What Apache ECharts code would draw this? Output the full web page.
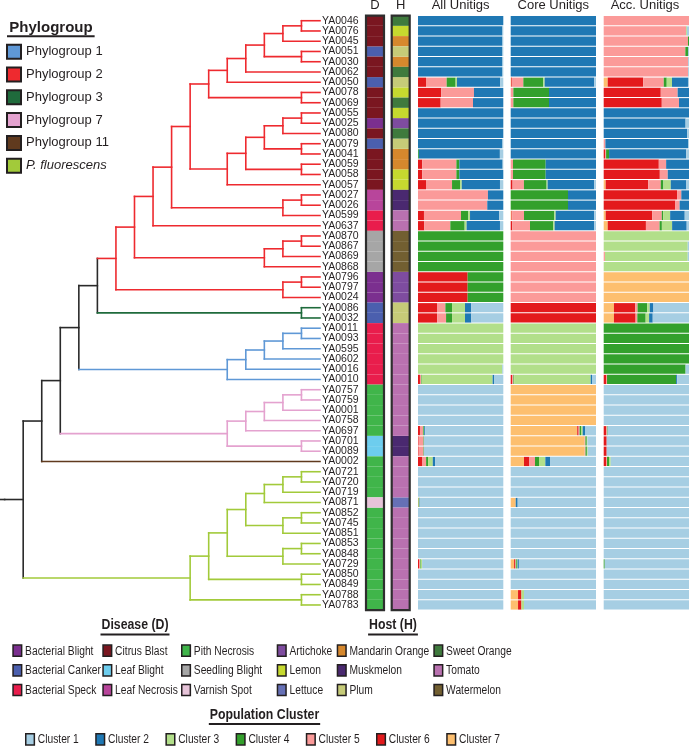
<!DOCTYPE html>
<html><head><meta charset="utf-8">
<script src="https://cdn.jsdelivr.net/npm/echarts@6/dist/echarts.min.js"></script>
<style>html,body{margin:0;padding:0;background:#fff}#c{width:689px;height:747px}</style>
</head><body><div id="c"></div>
<script>
// ---------------- DATA ----------------
const leaves = ['YA0046','YA0076','YA0045','YA0051','YA0030','YA0062','YA0050','YA0078','YA0069','YA0055',
'YA0025','YA0080','YA0079','YA0041','YA0059','YA0058','YA0057','YA0027','YA0026','YA0599',
'YA0637','YA0870','YA0867','YA0869','YA0868','YA0796','YA0797','YA0024','YA0086','YA0032',
'YA0011','YA0093','YA0595','YA0602','YA0016','YA0010','YA0757','YA0759','YA0001','YA0758',
'YA0697','YA0701','YA0089','YA0002','YA0721','YA0720','YA0719','YA0871','YA0852','YA0745',
'YA0851','YA0853','YA0848','YA0729','YA0850','YA0849','YA0788','YA0783'];

// tree topology (clades in Newick form)
const cladeA = '((((((YA0046,YA0076),YA0045),(YA0051,YA0030)),YA0062),YA0050),(YA0078,YA0069))';
const cladeB = '(((((YA0055,YA0025),YA0080),(YA0079,YA0041)),(YA0059,YA0058)),YA0057)';
const cladeC = '((YA0027,YA0026),YA0599)';
const cladeS = '(((YA0870,YA0867),YA0869),YA0868)';
const cladeP = '((YA0796,YA0797),YA0024)';
const cladeG = '(YA0086,YA0032)';
const cladeBlue = '(((((YA0011,YA0093),YA0595),YA0602),YA0016),YA0010)';
const cladePink = '(((((YA0757,YA0759),YA0001),YA0758),YA0697),(YA0701,YA0089))';
const cladeFl = '(((((((YA0721,YA0720),YA0719),YA0871),((YA0852,YA0745),YA0851)),((YA0853,YA0848),YA0729)),(YA0850,YA0849)),(YA0788,YA0783))';
const redClade = '((((((' + cladeA + ',' + cladeB + '),' + cladeC + '),YA0637),' + cladeS + '),' + cladeP + ')';
const treeNewick = '(((((' + redClade + ',' + cladeG + '),' + cladeBlue + '),' + cladePink + '),YA0002),' + cladeFl + ')';

const phylogroupNames = ['Phylogroup 1','Phylogroup 2','Phylogroup 3','Phylogroup 7','Phylogroup 11','P. fluorescens'];
const phylogroupColors = ['#5f98d6','#ee2a2f','#1f6b3c','#e4a2cf','#603a1e','#a2ca3a'];
const phylogroup = [].concat(
  Array(28).fill('Phylogroup 2'), Array(2).fill('Phylogroup 3'), Array(6).fill('Phylogroup 1'),
  Array(7).fill('Phylogroup 7'), ['Phylogroup 11'], Array(14).fill('P. fluorescens'));

const diseaseNames = ['Bacterial Blight','Bacterial Canker','Bacterial Speck','Citrus Blast','Leaf Blight','Leaf Necrosis','Pith Necrosis','Seedling Blight','Varnish Spot'];
const diseaseColors = ['#7b2f8f','#4b5fae','#e91d4c','#7a1620','#6dcdee','#b8459b','#40b54a','#a6a6a6','#e6c3d8'];
const disease = ['Citrus Blast','Citrus Blast','Citrus Blast','Bacterial Canker','Citrus Blast','Citrus Blast','Bacterial Canker','Citrus Blast','Citrus Blast','Citrus Blast',
'Bacterial Blight','Citrus Blast','Bacterial Canker','Citrus Blast','Citrus Blast','Citrus Blast','Citrus Blast','Leaf Necrosis','Leaf Necrosis','Bacterial Speck',
'Bacterial Speck','Seedling Blight','Seedling Blight','Seedling Blight','Seedling Blight','Bacterial Blight','Bacterial Blight','Bacterial Blight','Bacterial Canker','Bacterial Canker',
'Bacterial Speck','Bacterial Speck','Bacterial Speck','Bacterial Speck','Bacterial Speck','Bacterial Speck','Pith Necrosis','Pith Necrosis','Pith Necrosis','Pith Necrosis',
'Pith Necrosis','Leaf Blight','Leaf Blight','Pith Necrosis','Pith Necrosis','Pith Necrosis','Pith Necrosis','Varnish Spot','Pith Necrosis','Pith Necrosis',
'Pith Necrosis','Pith Necrosis','Pith Necrosis','Pith Necrosis','Pith Necrosis','Pith Necrosis','Pith Necrosis','Pith Necrosis'];

const hostNames = ['Artichoke','Lemon','Lettuce','Mandarin Orange','Muskmelon','Plum','Sweet Orange','Tomato','Watermelon'];
const hostColors = ['#7e4c9f','#c6d92f','#6670b6','#d6882d','#4a2970','#c6cb78','#3f7a3d','#b971b0','#725f31'];
const host = ['Sweet Orange','Lemon','Mandarin Orange','Plum','Mandarin Orange','Sweet Orange','Plum','Lemon','Sweet Orange','Lemon',
'Artichoke','Sweet Orange','Plum','Mandarin Orange','Mandarin Orange','Lemon','Lemon','Muskmelon','Muskmelon','Tomato',
'Tomato','Watermelon','Watermelon','Watermelon','Watermelon','Artichoke','Artichoke','Artichoke','Plum','Plum',
'Tomato','Tomato','Tomato','Tomato','Tomato','Tomato','Tomato','Tomato','Tomato','Tomato',
'Tomato','Muskmelon','Muskmelon','Tomato','Tomato','Tomato','Tomato','Lettuce','Tomato','Tomato',
'Tomato','Tomato','Tomato','Tomato','Tomato','Tomato','Tomato','Tomato'];

const clusterNames = ['Cluster 1','Cluster 2','Cluster 3','Cluster 4','Cluster 5','Cluster 6','Cluster 7'];
const clusterColors = ['#a6cee3','#1f78b4','#b2df8a','#33a02c','#fb9a99','#e31a1c','#fdbf6f'];

// proportions per leaf: [C1,C2,C3,C4,C5,C6,C7]
const allUnitigs = [
[0,1,0,0,0,0,0],[0.01,0.99,0,0,0,0,0],[0.01,0.99,0,0,0,0,0],[0.01,0.99,0,0,0,0,0],[0.01,0.99,0,0,0,0,0],
[0.01,0.99,0,0,0,0,0],[0.035,0.508,0.016,0.105,0.242,0.094,0],[0,0.344,0,0,0.383,0.273,0],[0,0.355,0,0,0.379,0.266,0],[0,1,0,0,0,0,0],
[0,1,0,0,0,0,0],[0,1,0,0,0,0,0],[0.01,0.99,0,0,0,0,0],[0.04,0.95,0,0.01,0,0,0],[0.008,0.507,0,0.035,0.4,0.05,0],
[0,0.515,0,0.035,0.4,0.05,0],[0.039,0.448,0.02,0.094,0.305,0.094,0],[0,0.18,0,0,0.82,0,0],[0,0.188,0,0,0.812,0,0],[0.047,0.343,0.02,0.086,0.434,0.07,0],
[0.039,0.391,0.023,0.168,0.305,0.074,0],[0,0,0,1,0,0,0],[0,0,0,1,0,0,0],[0,0,0,1,0,0,0],[0,0,0,1,0,0,0],
[0,0,0,0.418,0,0.582,0],[0,0,0,0.418,0,0.582,0],[0,0,0,0.418,0,0.582,0],[0.375,0.074,0.152,0.078,0.098,0.223,0],[0.375,0.074,0.152,0.07,0.105,0.224,0],
[0,0,1,0,0,0,0],[0,0,1,0,0,0,0],[0,0,1,0,0,0,0],[0,0,1,0,0,0,0],[0.012,0,0.988,0,0,0,0],
[0.105,0.02,0.832,0.008,0.012,0.023,0],[1,0,0,0,0,0,0],[1,0,0,0,0,0,0],[1,0,0,0,0,0,0],[1,0,0,0,0,0,0],
[0.917,0.01,0.005,0.01,0.035,0.023,0],[0.93,0,0,0.005,0.057,0.008,0],[0.93,0,0,0.005,0.057,0.008,0],[0.8,0.027,0.055,0.023,0.043,0.052,0],[1,0,0,0,0,0,0],
[1,0,0,0,0,0,0],[1,0,0,0,0,0,0],[0.98,0.005,0,0.008,0,0,0.007],[1,0,0,0,0,0,0],[1,0,0,0,0,0,0],
[1,0,0,0,0,0,0],[1,0,0,0,0,0,0],[1,0,0,0,0,0,0],[0.952,0,0.016,0.008,0.012,0.012,0],[1,0,0,0,0,0,0],
[1,0,0,0,0,0,0],[1,0,0,0,0,0,0],[1,0,0,0,0,0,0]];

const coreUnitigs = [
[0,1,0,0,0,0,0],[0,1,0,0,0,0,0],[0,1,0,0,0,0,0],[0,1,0,0,0,0,0],[0,1,0,0,0,0,0],
[0,1,0,0,0,0,0],[0.02,0.582,0.016,0.234,0.133,0.008,0.007],[0,0.551,0,0.418,0.031,0,0],[0,0.551,0,0.418,0.031,0,0],[0,1,0,0,0,0,0],
[0,1,0,0,0,0,0],[0,1,0,0,0,0,0],[0,1,0,0,0,0,0],[0,1,0,0,0,0,0],[0,0.59,0,0.383,0.027,0,0],
[0,0.59,0,0.383,0.027,0,0],[0.02,0.547,0.012,0.266,0.133,0.022,0],[0,0.328,0,0.672,0,0,0],[0,0.328,0,0.672,0,0,0],[0.02,0.453,0.016,0.355,0.137,0.01,0.009],
[0.02,0.465,0.016,0.273,0.207,0.019,0],[0,0,0,0,1,0,0],[0,0,0,0,1,0,0],[0,0,0,0,1,0,0],[0,0,0,0,1,0,0],
[0,0,0,0,1,0,0],[0,0,0,0,1,0,0],[0,0,0,0,1,0,0],[0,0,0,0,0,1,0],[0,0,0,0,0,1,0],
[0,0,1,0,0,0,0],[0,0,1,0,0,0,0],[0,0,1,0,0,0,0],[0,0,1,0,0,0,0],[0,0,1,0,0,0,0],
[0.047,0.015,0.898,0.008,0.016,0.016,0],[0,0,0,0,0,0,1],[0,0,0,0,0,0,1],[0,0,0,0,0,0,1],[0,0,0,0,0,0,1],
[0.129,0.027,0.02,0.016,0.012,0.016,0.78],[0.1,0,0.008,0.016,0.01,0,0.866],[0.097,0,0.01,0.016,0.01,0,0.867],[0.539,0.055,0.074,0.047,0.066,0.063,0.156],[1,0,0,0,0,0,0],
[1,0,0,0,0,0,0],[1,0,0,0,0,0,0],[0.918,0.023,0,0,0,0,0.059],[1,0,0,0,0,0,0],[1,0,0,0,0,0,0],
[1,0,0,0,0,0,0],[1,0,0,0,0,0,0],[1,0,0,0,0,0,0],[0.904,0.016,0.008,0.012,0.008,0.012,0.04],[1,0,0,0,0,0,0],
[1,0,0,0,0,0,0],[0.844,0,0.03,0,0,0.04,0.086],[0.844,0,0.03,0,0,0.04,0.086]];

const accUnitigs = [
[0,0,0,0,1,0,0],[0.025,0,0.01,0,0.965,0,0],[0,0,0,0.012,0.988,0,0],[0.012,0,0,0.031,0.957,0,0],[0.01,0,0,0,0.99,0,0],
[0.01,0,0,0,0.99,0,0],[0.012,0.187,0.062,0.035,0.241,0.416,0.047],[0,0.133,0,0,0.198,0.669,0],[0,0.117,0,0,0.202,0.681,0],[0,1,0,0,0,0,0],
[0.04,0.96,0,0,0,0,0],[0.02,0.98,0,0,0,0,0],[0.01,0.97,0,0,0.02,0,0],[0.032,0.905,0,0.035,0.008,0.02,0],[0,0.268,0,0,0.086,0.646,0],
[0,0.249,0,0,0.093,0.658,0],[0.031,0.183,0.086,0.031,0.148,0.498,0.023],[0,0.09,0,0,0.05,0.86,0],[0,0.11,0,0,0.05,0.84,0],[0.05,0.171,0.082,0.016,0.113,0.545,0.023],
[0.027,0.171,0.12,0.027,0.16,0.448,0.047],[0,0,1,0,0,0,0],[0.015,0,0.985,0,0,0,0],[0.015,0,0.97,0,0.015,0,0],[0,0,1,0,0,0,0],
[0,0,0,0,0,0,1],[0,0,0,0,0,0,1],[0,0,0,0,0,0,1],[0.417,0.043,0.03,0.113,0.027,0.25,0.12],[0.425,0.043,0.04,0.098,0.02,0.254,0.12],
[0,0,0,1,0,0,0],[0,0,0,1,0,0,0],[0,0,0,1,0,0,0],[0,0,0,1,0,0,0],[0.04,0,0,0.96,0,0,0],
[0.139,0.012,0,0.81,0.012,0.027,0],[1,0,0,0,0,0,0],[1,0,0,0,0,0,0],[1,0,0,0,0,0,0],[1,0,0,0,0,0,0],
[0.954,0,0,0.008,0.008,0.03,0],[0.965,0,0,0,0,0.035,0],[0.965,0,0,0,0,0.035,0],[0.918,0,0.02,0.023,0.012,0.027,0],[1,0,0,0,0,0,0],
[1,0,0,0,0,0,0],[1,0,0,0,0,0,0],[1,0,0,0,0,0,0],[1,0,0,0,0,0,0],[1,0,0,0,0,0,0],
[1,0,0,0,0,0,0],[1,0,0,0,0,0,0],[1,0,0,0,0,0,0],[0.988,0,0,0.012,0,0,0],[1,0,0,0,0,0,0],
[1,0,0,0,0,0,0],[1,0,0,0,0,0,0],[1,0,0,0,0,0,0]];

// ---------------- LAYOUT / STYLE ----------------
const FONT = '"Liberation Sans", Arial, Helvetica, sans-serif';
const INK = '#231f20';
const TOP = 15.6, HGT = 594.5;
const SQX = 0.82;          // horizontal squeeze of the bottom key's lettering
const legFs = 12.5, ttlFs = 15;
const mctx = document.createElement('canvas').getContext('2d');
function tw(font, t){ mctx.font = font; return mctx.measureText(t).width; }

// ---------------- TREE ----------------
function parseNewick(s){
  let i = 0;
  function node(){
    if (s[i] === '('){ i++; const ch=[node()]; while (s[i]===','){ i++; ch.push(node()); } i++; return {children: ch}; }
    const j = i; while (i < s.length && ',()'.indexOf(s[i]) < 0) i++;
    return {name: s.slice(j, i).trim()};
  }
  return node();
}
const root = parseNewick(treeNewick);
const leafIdx = {}; leaves.forEach((n,i)=>leafIdx[n]=i);
(function lay(n){
  if (!n.children){ n.h=0; n.y=leafIdx[n.name]; n.g=phylogroup[n.y]; return; }
  n.children.forEach(lay);
  n.h = Math.max.apply(null, n.children.map(c=>c.h)) + 1;
  n.y = (n.children[0].y + n.children[n.children.length-1].y)/2;
  const g0 = n.children[0].g;
  n.g = n.children.every(c=>c.g===g0) ? g0 : 'backbone';
})(root);
const segs = {};
function addSeg(g, s){ (segs[g] = segs[g] || []).push(s); }
(function walk(n, p){
  if (p) addSeg(n.g, [p.h, n.y, n.h, n.y]);
  if (n.children){ addSeg(n.g, [n.h, n.children[0].y, n.h, n.children[n.children.length-1].y]); n.children.forEach(c=>walk(c,n)); }
})(root, null);
addSeg('backbone', [root.h + 0.25, root.y, root.h, root.y]);

const series = [];
const treeGroups = ['backbone'].concat(phylogroupNames);
treeGroups.forEach(g=>{
  const col = g==='backbone' ? '#2a2a2a' : phylogroupColors[phylogroupNames.indexOf(g)];
  series.push({
    type:'custom', name:g, xAxisIndex:0, yAxisIndex:0, silent:true, clip:false,
    itemStyle:{color:col}, encode:{x:[0,2], y:[1,3]},
    data: segs[g] || [],
    renderItem:(params, api)=>{
      const a = api.coord([api.value(0), api.value(1)]);
      const b = api.coord([api.value(2), api.value(3)]);
      return {type:'line', shape:{x1:a[0],y1:a[1],x2:b[0],y2:b[1]}, style:{stroke:col, lineWidth:1.6, lineCap:'square'}};
    }
  });
});

// D and H columns
diseaseNames.forEach((n,k)=>series.push({type:'bar', name:n, stack:'D', xAxisIndex:1, yAxisIndex:2, barCategoryGap:'0%', silent:true,
  itemStyle:{color:diseaseColors[k]}, data: disease.map(d=> d===n ? 1 : '-')}));
hostNames.forEach((n,k)=>series.push({type:'bar', name:n, stack:'H', xAxisIndex:2, yAxisIndex:3, barCategoryGap:'0%', silent:true,
  itemStyle:{color:hostColors[k]}, data: host.map(d=> d===n ? 1 : '-')}));

// cluster bars
[allUnitigs, coreUnitigs, accUnitigs].forEach((tbl, p)=>{
  for (let k = 6; k >= 0; k--){
    series.push({type:'bar', name:clusterNames[k], stack:'P'+p, xAxisIndex:3+p, yAxisIndex:4+p, barCategoryGap:'10%', silent:true,
      itemStyle:{color:clusterColors[k]}, data: tbl.map(r=>r[k])});
  }
});

const panelLeft = [418, 510.7, 603.7], panelW = 85.3;
const grids = [
  {left:0, top:TOP, width:320, height:HGT},
  {left:366, top:TOP, width:18, height:HGT},
  {left:391.7, top:TOP, width:18, height:HGT}
].concat(panelLeft.map(l=>({left:l, top:TOP, width:panelW, height:HGT})));
grids.forEach(g=>{ g.outerBoundsMode='none'; g.containLabel=false; });

const hidden = {axisLine:{show:false}, axisTick:{show:false}, axisLabel:{show:false}, splitLine:{show:false}};
const xAxes = [Object.assign({type:'value', gridIndex:0, min:0, max:root.h+0.25, inverse:true}, hidden)];
for (let g=1; g<=5; g++) xAxes.push(Object.assign({type:'value', gridIndex:g, min:0, max:1}, hidden));
const yAxes = [
  Object.assign({type:'value', gridIndex:0, min:-0.5, max:leaves.length-0.5, inverse:true}, hidden),
  {type:'category', gridIndex:0, data:leaves, inverse:true, position:'right', axisLine:{show:false}, axisTick:{show:false},
   axisLabel:{interval:0, margin:2, fontSize:10.5, color:INK, fontFamily:FONT}}
];
for (let g=1; g<=5; g++) yAxes.push(Object.assign({type:'category', gridIndex:g, data:leaves, inverse:true}, hidden));

// phylogroup legend (ECharts legend)
const legends = [{selectedMode:false, padding:0, icon:'rect', orient:'vertical',
  data:phylogroupNames, left:6, top:43.7, itemWidth:14, itemHeight:14, itemGap:6.8,
  itemStyle:{borderColor:INK, borderWidth:2},
  formatter:n=> n==='P. fluorescens' ? '{i|'+n+'}' : n,
  textStyle:{fontSize:13, lineHeight:16, color:INK, fontFamily:FONT, rich:{i:{fontStyle:'italic', fontSize:13, lineHeight:16, color:INK, fontFamily:FONT}}}}];

// titles (headers)
function ttl(text, x, y, fs, bold, align){
  return {text, left:x, top:y, textAlign:align||'center', textVerticalAlign:'middle', padding:0,
    textStyle:{fontSize:fs, fontWeight:bold?'bold':'normal', color:INK, fontFamily:FONT}};
}
const titles = [
  ttl('D', 375, 5.5, 13), ttl('H', 400.7, 5.5, 13),
  ttl('All Unitigs', 460.6, 5.5, 13), ttl('Core Unitigs', 553.3, 5.5, 13), ttl('Acc. Unitigs', 645, 5.5, 13),
  ttl('Phylogroup', 9.3, 27.4, 15, true, 'left')
];

// bottom keys (condensed lettering as in the original figure)
const graphics = [
  {type:'rect', silent:true, z:100, shape:{x:366, y:TOP, width:18, height:HGT}, style:{fill:'none', stroke:'#2e2e2e', lineWidth:2.2}},
  {type:'rect', silent:true, z:100, shape:{x:391.7, y:TOP, width:18, height:HGT}, style:{fill:'none', stroke:'#2e2e2e', lineWidth:2.2}},
  {type:'line', silent:true, z:100, shape:{x1:7, y1:36.3, x2:9.3+tw('bold 15px '+FONT,'Phylogroup')+2, y2:36.3}, style:{stroke:INK, lineWidth:2}}
];
function keyTitle(text, cx, cy){
  const w = tw('bold '+ttlFs+'px '+FONT, text) * SQX;
  graphics.push({type:'text', silent:true, x:cx, y:cy, scaleX:SQX,
    style:{text, fontSize:ttlFs, fontWeight:'bold', fontFamily:FONT, fill:INK, align:'center', verticalAlign:'middle'}});
  graphics.push({type:'line', silent:true, shape:{x1:cx-w/2-1, y1:cy+9.6, x2:cx+w/2+1, y2:cy+9.6}, style:{stroke:INK, lineWidth:2}});
}
function keyItem(name, color, x, cy){
  graphics.push({type:'rect', silent:true, shape:{x:x+0.75, y:cy-5.6, width:8.6, height:11.2}, style:{fill:color, stroke:INK, lineWidth:1.5}});
  graphics.push({type:'text', silent:true, x:x+12.8, y:cy+0.4, scaleX:SQX,
    style:{text:name, fontSize:legFs, fontFamily:FONT, fill:INK, align:'left', verticalAlign:'middle'}});
}
keyTitle('Disease (D)', 135, 625);
keyTitle('Host (H)', 393, 625);
keyTitle('Population Cluster', 264.5, 714.5);
const keyRows = [650.7, 670.4, 690];
const dCols = [12.3, 102.3, 181], hCols = [276.7, 336.7, 433.3];
diseaseNames.forEach((n,k)=>keyItem(n, diseaseColors[k], dCols[Math.floor(k/3)], keyRows[k%3]));
hostNames.forEach((n,k)=>keyItem(n, hostColors[k], hCols[Math.floor(k/3)], keyRows[k%3]));
clusterNames.forEach((n,k)=>keyItem(n, clusterColors[k], 25 + 70.2*k, 739.3));

const chart = echarts.init(document.getElementById('c'), null, {renderer:'canvas'});
chart.setOption({
  animation:false, backgroundColor:'#fff',
  textStyle:{fontFamily:FONT},
  title:titles, grid:grids, xAxis:xAxes, yAxis:yAxes, legend:legends, graphic:graphics, series:series
});
</script></body></html>
